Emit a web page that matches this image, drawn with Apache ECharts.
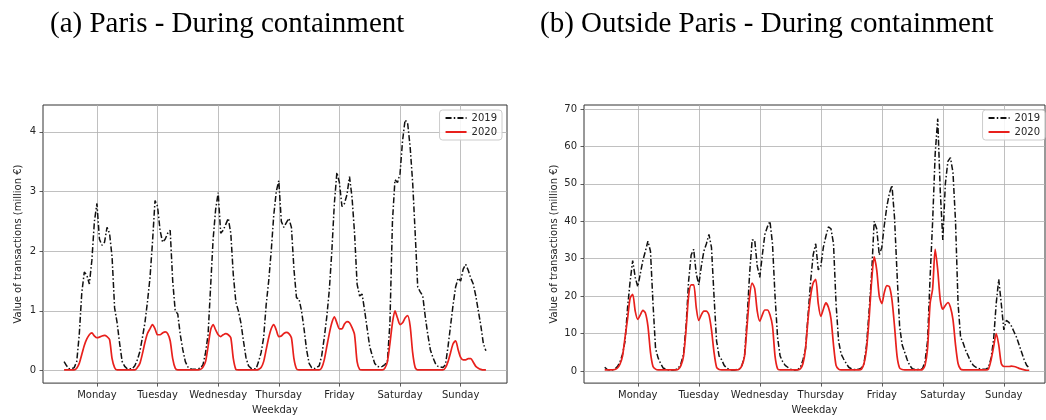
<!DOCTYPE html>
<html>
<head>
<meta charset="utf-8">
<script src="https://cdn.jsdelivr.net/npm/echarts@6/dist/echarts.min.js"></script>
<style>
  html, body { margin: 0; padding: 0; background: #fff; }
  #chart { width: 1046px; height: 420px; }
</style>
</head>
<body>
<div id="chart"></div>
<script>
// ---------- DATA ----------
const weekdays = ['Monday', 'Tuesday', 'Wednesday', 'Thursday', 'Friday', 'Saturday', 'Sunday'];
// hour (from Monday 00h) at which each weekday tick is placed
const weekdayTickHours = [13, 37, 61, 85, 109, 133, 157];
const parisTicks = [0, 1, 2, 3, 4];
const outsideTicks = [0, 10, 20, 30, 40, 50, 60, 70];
const seriesNames = ['2019', '2020'];
const titles = ['(a) Paris - During containment', '(b) Outside Paris - During containment'];
const yAxisTitle = 'Value of transactions (million €)';
const xAxisTitle = 'Weekday';

// Paris, hourly values (million €), Monday 00h .. Sunday 23h
const paris2019 = [
  0.15, 0.08, 0.03, 0.03, 0.05, 0.15, 0.6, 1.3, 1.65, 1.6, 1.45, 1.85, 2.5, 2.8, 2.2, 2.1, 2.15, 2.4, 2.3, 1.9, 1.05, 0.8, 0.45, 0.15,
  0.07, 0.03, 0.03, 0.03, 0.08, 0.18, 0.32, 0.55, 0.8, 1.15, 1.55, 2.15, 2.85, 2.75, 2.35, 2.15, 2.2, 2.3, 2.35, 1.5, 1.0, 0.95, 0.6, 0.35,
  0.15, 0.06, 0.03, 0.02, 0.02, 0.03, 0.04, 0.1, 0.3, 0.6, 1.4, 2.2, 2.7, 2.98, 2.3, 2.35, 2.45, 2.55, 2.3, 1.6, 1.15, 1.0, 0.8, 0.5,
  0.22, 0.08, 0.04, 0.03, 0.03, 0.15, 0.3, 0.55, 1.1, 1.5, 2.0, 2.6, 3.0, 3.18, 2.5, 2.4, 2.48, 2.55, 2.4, 1.7, 1.22, 1.2, 1.0, 0.7,
  0.35, 0.12, 0.05, 0.03, 0.05, 0.08, 0.25, 0.55, 0.9, 1.35, 2.0, 2.8, 3.32, 3.15, 2.75, 2.8, 2.95, 3.25, 2.9, 2.3, 1.45, 1.25, 1.28, 1.0,
  0.7, 0.4, 0.25, 0.12, 0.07, 0.06, 0.07, 0.1, 0.15, 0.8, 2.5, 3.2, 3.15, 3.3, 3.85, 4.2, 4.15, 3.75, 3.15, 2.3, 1.4, 1.32, 1.25, 0.9,
  0.6, 0.35, 0.22, 0.12, 0.07, 0.06, 0.05, 0.1, 0.4, 0.75, 1.1, 1.4, 1.55, 1.5, 1.7, 1.78, 1.68, 1.55, 1.45, 1.25, 1.0, 0.75, 0.45, 0.33
];
const paris2020 = [
  0.01, 0.01, 0.01, 0.01, 0.01, 0.04, 0.12, 0.27, 0.42, 0.53, 0.6, 0.63, 0.58, 0.55, 0.56, 0.58, 0.59, 0.57, 0.52, 0.2, 0.05, 0.01, 0.01, 0.01,
  0.01, 0.01, 0.01, 0.01, 0.01, 0.05, 0.12, 0.28, 0.47, 0.62, 0.7, 0.77, 0.7, 0.6, 0.6, 0.63, 0.65, 0.62, 0.5, 0.2, 0.04, 0.01, 0.01, 0.01,
  0.01, 0.01, 0.01, 0.01, 0.01, 0.01, 0.02, 0.06, 0.15, 0.4, 0.68, 0.77, 0.68, 0.6, 0.57, 0.6, 0.62, 0.6, 0.55, 0.2, 0.02, 0.01, 0.01, 0.01,
  0.01, 0.01, 0.01, 0.01, 0.01, 0.02, 0.05, 0.15, 0.35, 0.55, 0.7, 0.77, 0.68, 0.57, 0.58, 0.62, 0.64, 0.62, 0.55, 0.2, 0.03, 0.01, 0.01, 0.01,
  0.01, 0.01, 0.01, 0.01, 0.01, 0.01, 0.05, 0.18, 0.4, 0.62, 0.8, 0.9, 0.8, 0.7, 0.7, 0.78, 0.82, 0.8, 0.72, 0.6, 0.15, 0.02, 0.01, 0.01,
  0.01, 0.01, 0.01, 0.01, 0.01, 0.01, 0.01, 0.04, 0.15, 0.45, 0.8, 1.0, 0.88, 0.77, 0.8, 0.88, 0.92, 0.75, 0.3, 0.05, 0.01, 0.01, 0.01, 0.01,
  0.01, 0.01, 0.01, 0.01, 0.01, 0.01, 0.01, 0.05, 0.15, 0.3, 0.45, 0.5, 0.35, 0.22, 0.18, 0.18, 0.2, 0.2, 0.14, 0.07, 0.04, 0.02, 0.01, 0.01
];
// Outside Paris, hourly values (million €)
const outside2019 = [
  1.0, 0.4, 0.3, 0.3, 0.5, 1.2, 2.4, 4.5, 8, 17, 24, 29.5, 25, 22.5, 26, 29.5, 32, 34.7, 32, 18, 6, 3.5, 2, 0.8,
  0.5, 0.3, 0.3, 0.3, 0.4, 0.8, 2, 4.5, 12, 24, 31, 32.5, 26, 23, 28, 32, 34, 36.5, 33, 20, 8, 4, 3, 1.5,
  0.8, 0.4, 0.3, 0.3, 0.4, 0.6, 1.5, 4, 14, 26, 35, 35, 28, 25, 31, 36.5, 38.5, 40, 34, 20, 9, 4, 2.5, 1.5,
  1.0, 0.5, 0.3, 0.3, 0.4, 1, 3, 6, 15, 24, 31, 34, 27, 28, 33, 36, 38.5, 38, 34, 18, 8, 4.5, 3.2, 2,
  1.0, 0.6, 0.4, 0.4, 0.5, 0.8, 2, 7, 16, 26, 40, 38, 31, 33, 39, 44, 47.5, 49.6, 41, 26, 12, 7, 5, 3,
  1.5, 0.6, 0.4, 0.4, 0.5, 0.6, 2.5, 8, 25, 40, 58, 67.4, 48, 35, 50, 56, 57, 53, 40, 18, 9, 7.5, 5.5, 4,
  2.5, 1.5, 1, 0.7, 0.5, 0.5, 0.5, 1, 3.5, 8.5, 18, 24.5, 18, 11, 13.5, 13, 12, 10.5, 9, 7, 5, 3, 1.5, 0.8
];
const outside2020 = [
  0.3, 0.3, 0.3, 0.3, 0.4, 0.8, 1.8, 4, 9, 14, 19.5, 20.5, 16, 13.8, 15, 16.2, 15.5, 12, 5, 1.2, 0.5, 0.3, 0.3, 0.3,
  0.3, 0.3, 0.3, 0.3, 0.3, 0.5, 1.5, 4, 11, 20, 23, 23, 17, 13.5, 15, 16, 16, 15, 11, 5, 1, 0.4, 0.3, 0.3,
  0.3, 0.3, 0.3, 0.3, 0.3, 0.5, 1.5, 4, 12, 20, 23.5, 22, 16, 13.3, 15, 16.3, 16.3, 15, 12, 4, 0.6, 0.3, 0.3, 0.3,
  0.3, 0.3, 0.3, 0.3, 0.3, 0.6, 2, 6, 14, 20, 23.5, 24.5, 18, 14.6, 16.5, 18.2, 17, 14, 7, 1.5, 0.5, 0.3, 0.3, 0.3,
  0.3, 0.3, 0.3, 0.3, 0.3, 0.5, 2, 6, 14, 24, 30.5, 27, 20, 18, 21, 22.8, 22.5, 19, 12, 4, 0.8, 0.4, 0.3, 0.3,
  0.3, 0.3, 0.3, 0.3, 0.3, 0.4, 1.5, 6, 18, 22, 32.5, 27, 19, 16.5, 17.5, 18.3, 17, 13.7, 7, 2, 0.5, 0.3, 0.3, 0.3,
  0.3, 0.3, 0.3, 0.3, 0.3, 0.3, 0.3, 0.6, 3, 6.5, 10, 7, 2, 1.2, 1.2, 1.2, 1.3, 1.2, 1, 0.7, 0.5, 0.3, 0.2, 0.2
];

// ---------- CHART ----------
const chart = echarts.init(document.getElementById('chart'), null, { renderer: 'canvas' });
const toPairs = arr => arr.map((v, i) => [i, v]);
const FONT = 'DejaVu Sans';
const TXT = '#262626';

function xAxisCfg(gridIndex, min, max) {
  return {
    type: 'value', gridIndex, min, max, position: 'bottom',
    name: xAxisTitle, nameLocation: 'middle', nameGap: 19,
    nameTextStyle: { fontFamily: FONT, fontSize: 10, color: TXT },
    axisLine: { show: false, onZero: false },
    axisTick: { show: true, inside: false, length: 3.5, lineStyle: { color: '#333', width: 0.8 }, customValues: weekdayTickHours },
    axisLabel: {
      show: true, margin: 7, fontFamily: FONT, fontSize: 10, color: TXT,
      customValues: weekdayTickHours,
      formatter: v => weekdays[weekdayTickHours.indexOf(Math.round(v))] || ''
    },
    splitLine: { show: true, lineStyle: { color: '#b0b0b0', width: 0.8 } }
  };
}
function yAxisCfg(gridIndex, min, max, ticks, gap) {
  return {
    type: 'value', gridIndex, min, max, position: 'left',
    name: yAxisTitle, nameLocation: 'middle', nameGap: gap,
    nameTextStyle: { fontFamily: FONT, fontSize: 10, color: TXT },
    axisLine: { show: false, onZero: false },
    axisTick: { show: true, inside: false, length: 3.5, lineStyle: { color: '#333', width: 0.8 }, customValues: ticks },
    axisLabel: { show: true, margin: 7, fontFamily: FONT, fontSize: 10, color: TXT, customValues: ticks },
    splitLine: { show: true, lineStyle: { color: '#b0b0b0', width: 0.8 } }
  };
}
const dashDot = [6, 2.2, 1.5, 2.2];
function line2019(xi, data) {
  return {
    name: seriesNames[0], type: 'line', xAxisIndex: xi, yAxisIndex: xi,
    data: toPairs(data), showSymbol: false, symbol: 'none',
    lineStyle: { color: '#111', width: 1.5, type: dashDot },
    itemStyle: { color: '#111' }, z: 3, animation: false
  };
}
function line2020(xi, data) {
  return {
    name: seriesNames[1], type: 'line', xAxisIndex: xi, yAxisIndex: xi,
    data: toPairs(data), showSymbol: false, symbol: 'none', smooth: 0.25,
    lineStyle: { color: '#e8201c', width: 1.7 },
    itemStyle: { color: '#e8201c' }, z: 4, animation: false
  };
}
function legendCfg(right) {
  return {
    data: seriesNames, orient: 'vertical', right, top: 110,
    itemWidth: 21, itemHeight: 10, itemGap: 4,
    padding: [3, 5, 3, 5],
    backgroundColor: 'rgba(255,255,255,0.85)', borderColor: '#cccccc', borderWidth: 1, borderRadius: 3,
    itemStyle: { opacity: 0 },
    textStyle: { fontFamily: FONT, fontSize: 10, color: TXT },
    selectedMode: false
  };
}

chart.setOption({
  animation: false,
  backgroundColor: '#fff',
  title: [
    { text: titles[0], left: 45, top: 5, textStyle: { fontFamily: 'Liberation Serif', fontSize: 29, fontWeight: 'normal', color: '#000' } },
    { text: titles[1], left: 535, top: 5, textStyle: { fontFamily: 'Liberation Serif', fontSize: 29, fontWeight: 'normal', color: '#000' } }
  ],
  grid: [
    { left: 43, top: 105, width: 464, height: 283, show: true, borderColor: '#333', borderWidth: 1, backgroundColor: 'transparent' },
    { left: 584, top: 105, width: 461, height: 283, show: true, borderColor: '#333', borderWidth: 1, backgroundColor: 'transparent' }
  ],
  xAxis: [xAxisCfg(0, -8.35, 175.35), xAxisCfg(1, -8.15, 173.2)],
  yAxis: [yAxisCfg(0, -0.21, 4.45, parisTicks, 20), yAxisCfg(1, -3.23, 71.05, outsideTicks, 25)],
  legend: [legendCfg(544), legendCfg(1)],
  series: [
    line2019(0, paris2019), line2020(0, paris2020),
    line2019(1, outside2019), line2020(1, outside2020)
  ]
});
</script>
</body>
</html>
